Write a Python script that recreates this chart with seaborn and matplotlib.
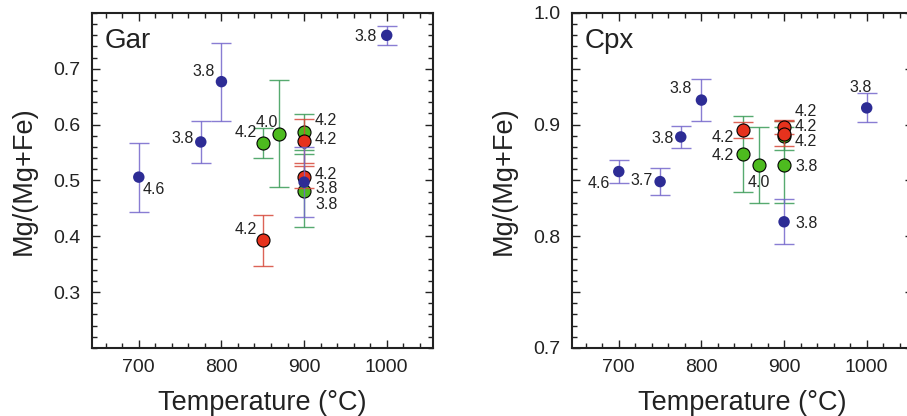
import pandas as pd
import matplotlib.pyplot as plt
from matplotlib.ticker import MultipleLocator, FixedLocator
import seaborn as sns

# Garnet (Gar) panel: A = blue series, B = green series, C = red series
gar_temp = [700, 775, 800, 1000, 900, 850, 870, 900, 900, 850, 900, 900]
gar_mg = [0.506, 0.569, 0.677, 0.760, 0.497, 0.567, 0.584, 0.587, 0.482, 0.393, 0.571, 0.506]
gar_err = [0.062, 0.037, 0.070, 0.017, 0.063, 0.027, 0.096, 0.032, 0.066, 0.046, 0.040, 0.020]
gar_series = ["A", "A", "A", "A", "A", "B", "B", "B", "B", "C", "C", "C"]
gar_pressure = ["4.6", "3.8", "3.8", "3.8", "3.8", "4.2", "4.0", "4.2", "3.8", "4.2", "4.2", "4.2"]

# Clinopyroxene (Cpx) panel
cpx_temp = [700, 750, 775, 800, 1000, 900, 850, 870, 900, 900, 850, 900, 900]
cpx_mg = [0.858, 0.849, 0.889, 0.922, 0.915, 0.813, 0.874, 0.864, 0.890, 0.864, 0.895, 0.898, 0.892]
cpx_err = [0.010, 0.012, 0.010, 0.019, 0.013, 0.020, 0.034, 0.034, 0.013, 0.034, 0.007, 0.006, 0.011]
cpx_series = ["A", "A", "A", "A", "A", "A", "B", "B", "B", "B", "C", "C", "C"]
cpx_pressure = ["4.6", "3.7", "3.8", "3.8", "3.8", "3.8", "4.2", "4.0", "4.2", "3.8", "4.2", "4.2", "4.2"]

# label placement (pixel offsets from the point, horizontal alignment)
gar_label_pos = [(4, -11, "left"), (-7, 5, "right"), (-7, 12, "right"), (-10, 0, "right"),
                 (11, -5, "left"), (-6, 12, "right"), (-1, 13, "right"), (11, 13, "left"),
                 (11, -12, "left"), (-6, 12, "right"), (11, 3, "left"), (11, 4, "left")]
cpx_label_pos = [(-9, -10, "right"), (-7, 3, "right"), (-7, 0, "right"), (-10, 13, "right"),
                 (-6, 22, "center"), (11, 0, "left"), (-9, 0, "right"), (-12, -16, "left"),
                 (11, -4, "left"), (11, 0, "left"), (-9, -6, "right"), (11, 17, "left"),
                 (11, 9, "left")]

marker_colors = {"A": "#2d2c95", "B": "#4dbb1f", "C": "#e6321d"}
bar_colors = {"A": "#7466cc", "B": "#3a9b57", "C": "#d6483a"}


def draw_panel(ax, temp, mg, err, series, pressure, label_pos, name):
    df = pd.DataFrame({"temp": temp, "mg": mg, "err": err,
                       "series": series, "pressure": pressure})
    # green first, then red, then blue on top
    for z, s in enumerate(["B", "C", "A"]):
        sub = df[df["series"] == s]
        ax.errorbar(sub["temp"], sub["mg"], yerr=sub["err"], fmt="none",
                    ecolor=bar_colors[s], elinewidth=1.0, capsize=7,
                    capthick=1.0, alpha=0.85, zorder=2 + 2 * z)
        edge = "none" if s == "A" else "black"
        size = 68 if s == "A" else 88
        sns.scatterplot(data=sub, x="temp", y="mg", color=marker_colors[s],
                        s=size, edgecolor=edge, linewidth=0.8, ax=ax,
                        legend=False, zorder=3 + 2 * z)
    for i, row in df.iterrows():
        dx, dy, ha = label_pos[i]
        ax.annotate(row["pressure"], (row["temp"], row["mg"]),
                    xytext=(dx, dy), textcoords="offset pixels",
                    ha=ha, va="center_baseline", fontsize=11.5, color="#222222",
                    zorder=10)
    ax.text(0.039, 0.895, name, transform=ax.transAxes, fontsize=20,
            va="baseline", ha="left", color="#222222")
    ax.set_xlim(643, 1056)
    ax.xaxis.set_major_locator(FixedLocator([700, 800, 900, 1000]))
    ax.xaxis.set_minor_locator(MultipleLocator(20))
    ax.set_xlabel("Temperature (°C)", fontsize=19.5, labelpad=10, color="#222222")
    ax.set_ylabel("Mg/(Mg+Fe)", fontsize=19.5, labelpad=12, color="#222222")
    ax.tick_params(which="both", direction="in", top=True, right=True,
                   width=1.0, colors="#222222", labelsize=14, pad=8)
    ax.tick_params(which="major", length=6)
    ax.tick_params(which="minor", length=3.5)
    for sp in ax.spines.values():
        sp.set_linewidth(1.5)
        sp.set_color("#222222")


def main() -> None:
    sns.set_style("ticks")
    plt.rcParams["font.family"] = ["Liberation Sans", "DejaVu Sans"]

    fig = plt.figure(figsize=(9.07, 4.16), dpi=100)
    ax1 = fig.add_axes([0.1011, 0.1635, 0.3763, 0.8053])
    ax2 = fig.add_axes([0.6303, 0.1635, 0.3763, 0.8053])

    draw_panel(ax1, gar_temp, gar_mg, gar_err, gar_series, gar_pressure,
               gar_label_pos, "Gar")
    ax1.set_ylim(0.2, 0.8)
    ax1.set_yticks([0.3, 0.4, 0.5, 0.6, 0.7])
    ax1.set_yticklabels(["0.3", "0.4", "0.5", "0.6", "0.7"])
    ax1.yaxis.set_minor_locator(MultipleLocator(0.02))

    draw_panel(ax2, cpx_temp, cpx_mg, cpx_err, cpx_series, cpx_pressure,
               cpx_label_pos, "Cpx")
    ax2.set_ylim(0.7, 1.0)
    ax2.set_yticks([0.7, 0.75, 0.8, 0.85, 0.9, 0.95, 1.0])
    ax2.set_yticklabels(["0.7", "", "0.8", "", "0.9", "", "1.0"])
    ax2.yaxis.set_minor_locator(MultipleLocator(0.01))

    fig.savefig("out.png", dpi=100)


if __name__ == "__main__":
    main()
